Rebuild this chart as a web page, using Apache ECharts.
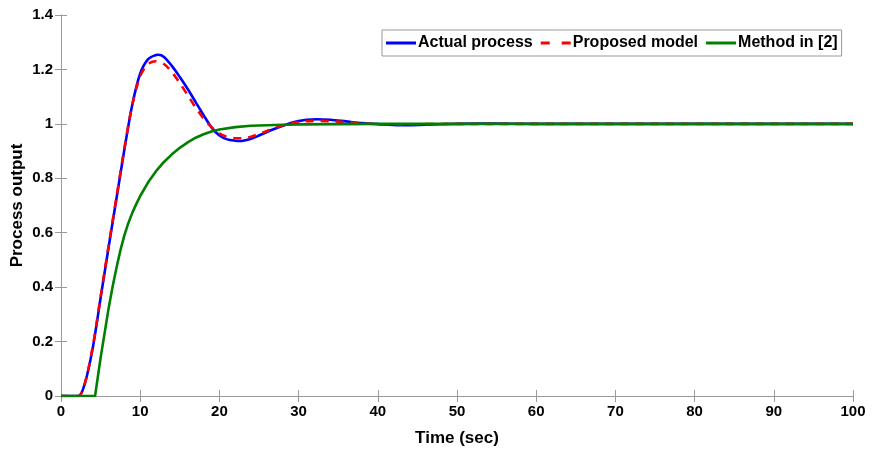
<!DOCTYPE html>
<html><head><meta charset="utf-8">
<script src="https://cdn.jsdelivr.net/npm/echarts@6/dist/echarts.min.js"></script>
<style>html,body{margin:0;padding:0;background:#fff}#c{width:875px;height:450px}</style>
</head><body><div id="c"></div>
<script>
const seriesNames = ['Actual process', 'Proposed model', 'Method in [2]'];
const xTicks = [0,10,20,30,40,50,60,70,80,90,100];
const yTicks = [0,0.2,0.4,0.6,0.8,1,1.2,1.4];

const actualTime = [0,2.2,3,4,5,6,7,8,9,10,11,12,12.3,13,14,15,16,17,18,19,20,21,22,22.6,23,24,25,26,27,28,29,30,31,32.3,34,36,38,40,42.8,46,50,55,60,100];
const actualValues = [0,0,0.045,0.175,0.36,0.545,0.725,0.905,1.07,1.185,1.238,1.253,1.254,1.246,1.213,1.172,1.128,1.08,1.032,0.987,0.957,0.943,0.938,0.937,0.938,0.945,0.957,0.97,0.982,0.993,1.003,1.01,1.015,1.017,1.015,1.009,1.003,0.999,0.995,0.997,1.0,1.001,1.0,1.0];

const modelTime = [0,2.2,3,4,5,6,7,8,9,10,11,12,13,14,15,16,17,18,19,20,21,22,23,24,25,26,27,28,29,30,32,34,36,38,40,43,46,50,100];
const modelValues = [0,0,0.045,0.18,0.365,0.55,0.73,0.91,1.07,1.175,1.22,1.23,1.22,1.19,1.15,1.105,1.06,1.02,0.988,0.965,0.952,0.947,0.947,0.953,0.963,0.974,0.985,0.994,1.002,1.007,1.011,1.01,1.006,1.002,0.999,0.998,0.999,1.0,1.0];

const methodTime = [0,4.3,5,5.5,6,6.5,7,7.5,8,8.5,9,9.5,10,11,12,13,14,15,16,17,18,19,20,22,24,27,30,35,40,100];
const methodValues = [0,0,0.14,0.23,0.32,0.4,0.47,0.535,0.59,0.635,0.673,0.705,0.735,0.785,0.826,0.86,0.888,0.912,0.932,0.949,0.962,0.972,0.979,0.988,0.993,0.996,0.998,0.999,1.0,1.0];

const pairs = (t, v) => t.map((x, i) => [x, v[i]]);
const font = 'Liberation Sans, Arial, sans-serif';
const axisGray = '#9a9a9a';
const solidIcon = 'path://M0,0h30v3h-30z';
const dashIcon = 'path://M0,0h9v3h-9z M21,0h9v3h-9z';

const chart = echarts.init(document.getElementById('c'));
chart.setOption({
  animation: false,
  backgroundColor: '#fff',
  grid: { left: 61, right: 22, top: 15, bottom: 54, show: false, outerBoundsMode: 'none', containLabel: false },
  legend: {
    data: [
      { name: seriesNames[0], icon: solidIcon },
      { name: seriesNames[1], icon: dashIcon },
      { name: seriesNames[2], icon: solidIcon }
    ],
    left: 382, top: 30,
    orient: 'horizontal',
    backgroundColor: '#fff',
    borderColor: '#999', borderWidth: 1, borderRadius: 0,
    padding: [5, 4, 5, 4],
    itemWidth: 30, itemHeight: 3, itemGap: 8,
    textStyle: { fontFamily: font, fontWeight: 'bold', fontSize: 16, color: '#000', padding: [0,0,0,-3] }
  },
  xAxis: [{
    type: 'value', min: 0, max: 100, interval: 10,
    name: 'Time (sec)', nameLocation: 'middle', nameGap: 34, nameMoveOverlap: false,
    nameTextStyle: { fontFamily: font, fontWeight: 'bold', fontSize: 17, color: '#000' },
    axisLine: { show: true, lineStyle: { color: axisGray, width: 1 } },
    axisTick: { show: true, inside: true, length: 6, lineStyle: { color: axisGray } },
    axisLabel: { fontFamily: font, fontWeight: 'bold', fontSize: 15, color: '#000', margin: 8 },
    splitLine: { show: false }
  }, {
    type: 'value', min: 0, max: 100, interval: 10, position: 'top',
    axisLine: { show: true, lineStyle: { color: axisGray, width: 1 } },
    axisTick: { show: true, inside: true, length: 6, lineStyle: { color: axisGray } },
    axisLabel: { show: false }, splitLine: { show: false }
  }],
  yAxis: [{
    type: 'value', min: 0, max: 1.4, interval: 0.2,
    name: 'Process output', nameLocation: 'middle', nameGap: 35, nameMoveOverlap: false,
    nameTextStyle: { fontFamily: font, fontWeight: 'bold', fontSize: 17, color: '#000' },
    axisLine: { show: true, lineStyle: { color: axisGray, width: 1 } },
    axisTick: { show: true, inside: true, length: 6, lineStyle: { color: axisGray } },
    axisLabel: { fontFamily: font, fontWeight: 'bold', fontSize: 15, color: '#000', margin: 8,
      formatter: v => String(Math.round(v * 10) / 10) },
    splitLine: { show: false }
  }, {
    type: 'value', min: 0, max: 1.4, interval: 0.2, position: 'right',
    axisLine: { show: true, lineStyle: { color: axisGray, width: 1 } },
    axisTick: { show: true, inside: true, length: 6, lineStyle: { color: axisGray } },
    axisLabel: { show: false }, splitLine: { show: false }
  }],
  series: [{
    name: seriesNames[0], type: 'line', data: pairs(actualTime, actualValues),
    showSymbol: false, symbol: 'none', smooth: 0.3,
    lineStyle: { color: '#0000ff', width: 2.6 }, itemStyle: { color: '#0000ff' }, z: 2
  }, {
    name: seriesNames[1], type: 'line', data: pairs(modelTime, modelValues),
    showSymbol: false, symbol: 'none', smooth: 0.3,
    lineStyle: { color: '#ff0000', width: 2.6, type: [8, 7] }, itemStyle: { color: '#ff0000' }, z: 3
  }, {
    name: seriesNames[2], type: 'line', data: pairs(methodTime, methodValues),
    showSymbol: false, symbol: 'none', smooth: false,
    lineStyle: { color: '#008000', width: 2.6, join: 'round' }, itemStyle: { color: '#008000' }, z: 4
  }]
});
</script></body></html>
